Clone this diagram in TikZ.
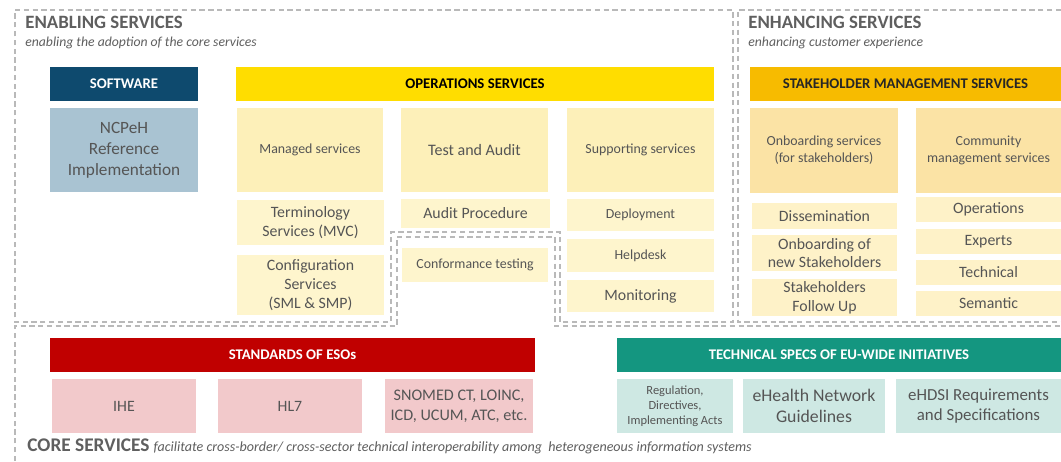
\documentclass[tikz,border=0pt]{standalone}
\usepackage{fontspec}
\setmainfont{Carlito}
\usepackage{xcolor}
\usetikzlibrary{positioning}

\definecolor{swblue}{RGB}{14,74,110}
\definecolor{ncpblue}{RGB}{169,195,210}
\definecolor{opsyellow}{RGB}{255,221,0}
\definecolor{opspale}{RGB}{253,240,185}
\definecolor{opslight}{RGB}{254,245,205}
\definecolor{stkorange}{RGB}{247,187,0}
\definecolor{stkpale}{RGB}{251,227,165}
\definecolor{stklight}{RGB}{254,242,200}
\definecolor{esored}{RGB}{192,0,0}
\definecolor{esopink}{RGB}{242,201,203}
\definecolor{eutealdark}{RGB}{20,150,128}
\definecolor{eutealpale}{RGB}{206,232,227}
\definecolor{txtgray}{RGB}{85,85,85}
\definecolor{ttlgray}{RGB}{95,95,95}

\begin{document}
\begin{tikzpicture}[x=0.02cm, y=-0.02cm,
  sz/.style 2 args={minimum width=#1*0.02cm, minimum height=#2*0.02cm},
  box/.style={inner sep=1pt, align=center, text=txtgray},
  head/.style={box, font=\fontsize{8.4}{9}\selectfont\bfseries},
  big/.style={font=\fontsize{9}{10.6}\selectfont},
  small/.style={font=\fontsize{7.9}{9.6}\selectfont},
  zone/.style={draw=gray!55, densely dashed, line width=0.8pt},
  title/.style={anchor=west, inner sep=0pt, text=ttlgray, font=\fontsize{10.7}{12}\selectfont\bfseries},
  subtitle/.style={anchor=west, inner sep=0pt, text=ttlgray, font=\fontsize{7.8}{9}\selectfont\itshape}]

\useasboundingbox (0,0) rectangle (1061,461);
\fill[white] (0,0) rectangle (1061,461);

% dashed zones
\draw[zone] (15,10)--(733,10)--(733,322)--(560,322)--(560,232)--(391,232)--(391,322)--(15,322)--cycle;
\draw[zone] (1061,10)--(738,10)--(738,322)--(1061,322);
\draw[zone] (15,461)--(15,326)--(397,326)--(397,237)--(555,237)--(555,326)--(1061,326);

\node[title] (enabling) at (25,22) {ENABLING SERVICES};
\node[subtitle] (enablingsub) at (25,43) {enabling the adoption of the core services};
\node[title] (enhancing) at (748,22) {ENHANCING SERVICES};
\node[subtitle] (enhancingsub) at (748,43) {enhancing customer experience};

% software
\node[head, sz={148}{34}, fill=swblue, text=white] (software) at (124,84) {SOFTWARE};
\node[box, sz={148}{84}, fill=ncpblue, font=\fontsize{9.8}{12}\selectfont] (ncpeh) at (124,150) {NCPeH\\Reference\\Implementation};

% operations services
\node[head, sz={478}{34}, fill=opsyellow, text=black] (ops) at (475,84) {OPERATIONS SERVICES};
\node[box, small, sz={146}{84}, fill=opspale] (managed) at (310,150) {Managed services};
\node[box, sz={147}{84}, fill=opspale, font=\fontsize{9.1}{11}\selectfont] (testaudit) at (474.5,150) {Test and Audit};
\node[box, small, sz={147}{84}, fill=opspale] (supporting) at (640.5,150) {Supporting services};
\node[box, big, sz={147}{45}, fill=opslight] (terminology) at (310.5,222.5) {Terminology\\Services (MVC)};
\node[box, big, sz={147}{60}, fill=opslight] (configuration) at (310.5,285) {Configuration\\Services\\(SML \& SMP)};
\node[box, big, sz={149}{29}, fill=opslight] (auditproc) at (475.5,213.5) {Audit Procedure};
\node[box, small, sz={146}{34}, fill=opslight] (conformance) at (475,265) {Conformance testing};
\node[box, small, sz={147}{32}, fill=opslight] (deployment) at (640.5,215) {Deployment};
\node[box, small, sz={147}{33}, fill=opslight] (helpdesk) at (640.5,255.5) {Helpdesk};
\node[box, big, sz={147}{32}, fill=opslight] (monitoring) at (640.5,296) {Monitoring};

% stakeholder management
\node[head, sz={311}{34}, fill=stkorange, text=black!85] (stakeholder) at (905.5,84) {STAKEHOLDER MANAGEMENT SERVICES};
\node[box, small, sz={148}{85}, fill=stkpale] (onboardsvc) at (824,150.5) {Onboarding services\\(for stakeholders)};
\node[box, small, sz={145}{85}, fill=stkpale] (community) at (988.5,150.5) {Community\\management services};
\node[box, big, sz={145}{26}, fill=stklight] (dissemination) at (824.5,216) {Dissemination};
\node[box, big, sz={145}{36}, fill=stklight] (onboardnew) at (824.5,253) {Onboarding of\\new Stakeholders};
\node[box, big, sz={145}{37}, fill=stklight] (followup) at (824.5,297.5) {Stakeholders\\Follow Up};
\node[box, big, sz={145}{25}, fill=stklight] (operations) at (988.5,209.5) {Operations};
\node[box, big, sz={145}{25}, fill=stklight] (experts) at (988.5,241.5) {Experts};
\node[box, big, sz={145}{25}, fill=stklight] (technical) at (988.5,272.5) {Technical};
\node[box, big, sz={145}{25}, fill=stklight] (semantic) at (988.5,303.5) {Semantic};

% core services
\node[head, sz={485}{34}, fill=esored, text=white] (standards) at (292.5,355) {STANDARDS OF ESOs};
\node[box, big, sz={144}{54}, fill=esopink] (ihe) at (124,406) {IHE};
\node[box, big, sz={144}{54}, fill=esopink] (hl7) at (290,406) {HL7};
\node[box, font=\fontsize{9.2}{11.4}\selectfont, sz={148}{54}, fill=esopink] (snomed) at (459,406) {SNOMED CT, LOINC,\\ICD, UCUM, ATC, etc.};

\node[head, sz={444}{34}, fill=eutealdark, text=white] (techspecs) at (839,355) {TECHNICAL SPECS OF EU-WIDE INITIATIVES};
\node[box, font=\fontsize{7.1}{8.6}\selectfont, sz={116}{54}, fill=eutealpale] (regulation) at (675,406) {Regulation,\\Directives,\\Implementing Acts};
\node[box, font=\fontsize{10.1}{12}\selectfont, sz={142}{54}, fill=eutealpale] (ehealth) at (814,406) {eHealth Network\\Guidelines};
\node[box, font=\fontsize{9.6}{11.6}\selectfont, sz={165}{54}, fill=eutealpale] (ehdsi) at (978.5,406) {eHDSI Requirements\\and Specifications};

\node[anchor=base west, inner sep=0pt, text=ttlgray] (core) at (27,451)
{{\fontsize{11}{12}\selectfont\bfseries CORE SERVICES}\ {\fontsize{8}{9.4}\selectfont\itshape facilitate cross-border/ cross-sector technical interoperability among\ \ heterogeneous information systems}};

\end{tikzpicture}
\end{document}
